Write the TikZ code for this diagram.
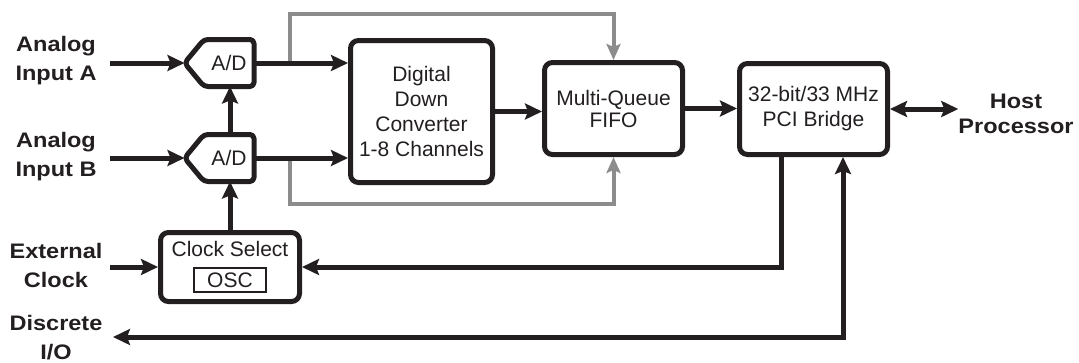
\documentclass[tikz,border=0pt]{standalone}
\usepackage{fontspec}
\setmainfont{Liberation Sans}
\newfontfamily\lblfont[FakeStretch=1.12]{Liberation Sans}
\usetikzlibrary{arrows.meta}
\definecolor{ink}{HTML}{231F20}
\definecolor{pipe}{HTML}{8C8C8C}
\tikzset{
  txt/.style={font=\fontsize{21}{25}\selectfont, text=ink, align=center, inner sep=0pt, outer sep=0pt},
  box/.style={txt, draw=ink, line width=5pt, rounded corners=8pt, fill=white, outer sep=2.5pt},
  lbl/.style={font=\lblfont\bfseries\fontsize{21}{29}\selectfont, text=ink, align=center, inner sep=0pt},
  arr/.style={draw=ink, line width=5pt, -{Stealth[length=17pt,width=16pt,inset=3pt]}},
  dbl/.style={draw=ink, line width=5pt, {Stealth[length=17pt,width=16pt,inset=3pt]}-{Stealth[length=17pt,width=16pt,inset=3pt]}},
  garr/.style={draw=pipe, line width=4pt, -{Stealth[length=16pt,width=14pt,inset=3pt]}},
  adshape/.style={draw=ink, line width=5pt, rounded corners=4pt, line join=round}
}
\begin{document}
\begin{tikzpicture}[x=1pt,y=-1pt]
\useasboundingbox (0,0) rectangle (1079,362);
% main boxes
\node[box, minimum width=142pt, minimum height=142pt] (ddc) at (421.5,111.5) {Digital\\Down\\Converter\\1-8 Channels};
\node[box, minimum width=138pt, minimum height=92pt, font=\fontsize{21}{22}\selectfont] (fifo) at (613.5,108.5) {Multi-Queue\\FIFO};
\node[box, minimum width=148pt, minimum height=91pt] (pci) at (813.5,109) {32-bit/33 MHz\\PCI Bridge};
\node[box, minimum width=139pt, minimum height=69pt] (clk) at (230,267) {};
\node[txt] (clkt) at (230,248.5) {Clock Select};
\node[txt, draw=ink, line width=2pt, minimum width=72pt, minimum height=24pt] (osc) at (230,280) {OSC};
% A/D converters
\node[txt, minimum width=50pt, minimum height=47pt] (adA) at (229,63) {A/D};
\node[txt, minimum width=50pt, minimum height=47pt] (adB) at (229,158) {A/D};
\coordinate (tipA) at ([xshift=-19.5pt]adA.west);
\coordinate (tipB) at ([xshift=-19.5pt]adB.west);
\draw[adshape] (tipA) -- (adA.north west) -- (adA.north east) -- (adA.south east) -- (adA.south west) -- cycle;
\draw[adshape] (tipB) -- (adB.north west) -- (adB.north east) -- (adB.south east) -- (adB.south west) -- cycle;
% outside labels
\node[lbl] (lblA) at (56,61) {Analog\\Input A};
\node[lbl] (lblB) at (56,157) {Analog\\Input B};
\node[lbl] (lblC) at (56,265.5) {External\\Clock};
\node[lbl] (lblD) at (56,337.5) {Discrete\\I/O};
\node[lbl, font=\lblfont\bfseries\fontsize{21}{25}\selectfont] (host) at (1016,114) {Host\\Processor};
% free ends
\coordinate (inA) at (110,63);
\coordinate (inB) at (110,158);
\coordinate (inC) at (110,267);
\coordinate (dio) at (113,337);
\coordinate (gA) at (290,63);
\coordinate (gB) at (290,158);
% gray bypass lines
\draw[garr] (gA) -- (290,14) -| (fifo.north);
\draw[garr] (gB) -- (290,204) -| (fifo.south);
% connectors
\draw[arr] (inA) -- (tipA);
\draw[arr] (inB) -- (tipB);
\draw[arr] (adA.east) -- (adA.east -| ddc.west);
\draw[arr] (adB.east) -- (adB.east -| ddc.west);
\draw[arr] (clk.north) -- (clk.north |- adB.south);
\draw[arr] (clk.north |- adB.north) -- (clk.north |- adA.south);
\draw[arr] (inC) -- (clk.west);
\draw[arr] (ddc.east) -- (ddc.east -| fifo.west);
\draw[arr] (fifo.east) -- (fifo.east -| pci.west);
\draw[dbl] (pci.east) -- (pci.east -| host.west);
\draw[arr] ([xshift=-32.5pt]pci.south) |- (clk.east);
\draw[dbl] (dio) -| ([xshift=29.5pt]pci.south);
\end{tikzpicture}
\end{document}
